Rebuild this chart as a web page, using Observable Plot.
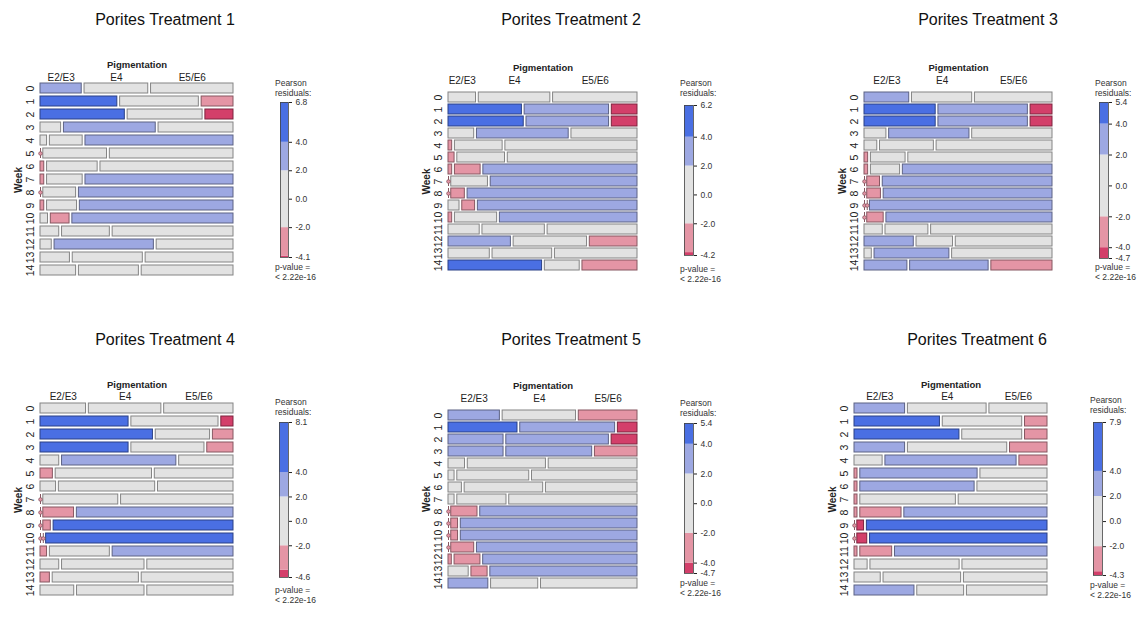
<!DOCTYPE html>
<html><head><meta charset="utf-8">
<script src="https://cdn.jsdelivr.net/npm/d3@7"></script>
<script src="https://cdn.jsdelivr.net/npm/@observablehq/plot@0.6"></script>
<style>
body{margin:0;background:#fff;font-family:"Liberation Sans",Arial,sans-serif;}
#root{position:relative;width:1142px;height:619px;overflow:hidden;background:#fff;}
.abs{position:absolute;}
.title{font-size:16px;color:#111;transform:translate(-50%,-50%);white-space:nowrap;}
.lg{font-size:8.5px;color:#333;line-height:10px;white-space:nowrap;}
</style></head><body><div id="root"></div>
<script>
// ---------- data ----------
const weeks = [0,1,2,3,4,5,6,7,8,9,10,11,12,13,14];
const pigmentLevels = ["E2/E3","E4","E5/E6"];
const titles = ["Porites Treatment 1","Porites Treatment 2","Porites Treatment 3","Porites Treatment 4","Porites Treatment 5","Porites Treatment 6"];

// row proportions (%) per week: [E2/E3, E4, E5/E6]; residual class: 2 (>4), 1 (2..4), 0, -1 (-4..-2), -2 (<-4)
const t1Props = [[22,34,44],[41,42,17],[45,40,15],[11,49,40],[3.5,17.5,79],[0,34,66],[2,27,71],[2,19,79],[0,17.5,82.5],[2,16,82],[4,10,86],[10,25.5,64.5],[6,53,41],[15.7,37.4,46.9],[19,32,49]];
const t1Levels = [[1,0,0],[2,0,-1],[2,0,-2],[0,1,0],[0,0,1],[-1,0,0],[-1,0,0],[-1,0,1],[-1,0,1],[-1,0,1],[0,-1,1],[0,0,0],[0,1,0],[0,0,0],[0,0,0]];

const t2Props = [[15,39,46],[40,46,14],[41,45,14],[14,50,36],[2,26,72],[3.3,26,70.7],[2,14,84],[0,20,80],[0,7.4,92.6],[6,7,87],[2,23,75],[17,34,49],[34,40,26],[22.5,32.5,45],[51,19,30]];
const t2Levels = [[0,0,0],[2,1,-2],[2,1,-2],[0,1,0],[-1,0,0],[-1,0,0],[-1,-1,1],[-1,0,1],[-1,-1,1],[0,-1,1],[-1,0,1],[0,0,0],[1,0,-1],[0,0,0],[2,0,-1]];

const t3Props = [[24.5,33,42.5],[39,49,12],[39,49,12],[12,44,44],[7,29.5,63.5],[2,19,79],[2,16,82],[0,7,93],[0,7.5,92.5],[0,0,100],[0,9,91],[10,23.5,66.5],[27,20,53],[4,41,55],[23.5,43,33.5]];
const t3Levels = [[1,0,0],[2,1,-2],[2,1,-2],[0,1,0],[0,0,0],[-1,0,0],[-1,0,1],[-1,-1,1],[-1,-1,1],[-1,-1,1],[-1,-1,1],[0,0,0],[1,0,0],[0,1,0],[1,1,-1]];

const t4Props = [[24.3,38.7,37],[47,46.5,6.5],[60,29,11],[47,39,14],[10,61,29],[6.6,51.4,42],[8.3,51.4,40.3],[0,40,60],[0,16.4,83.6],[0,4,96],[0,0,100],[3.5,32,64.5],[10,44,46],[5,46,49],[18,36,46]];
const t4Levels = [[0,0,0],[2,0,-2],[2,0,-1],[2,0,-1],[0,1,0],[-1,0,0],[0,0,0],[-1,0,0],[-1,-1,1],[-1,-1,2],[-1,-1,2],[-1,0,1],[0,0,0],[-1,0,0],[0,0,0]];

const t5Props = [[28,40,32],[37.6,51.7,10.7],[30,55.9,14.1],[30,46.8,23.2],[9,42.6,48.4],[3.3,39.2,57.5],[7.3,42.8,49.9],[3.3,26.8,69.9],[0,14.3,85.7],[0,3.7,96.3],[0,3.7,96.3],[0,12.5,87.5],[1.8,14.1,84.1],[11,8.8,80.2],[21.7,25.7,52.6]];
const t5Levels = [[1,0,-1],[2,1,-2],[1,1,-2],[1,1,-1],[0,0,0],[0,0,0],[0,0,0],[0,0,0],[-1,-1,1],[-1,-1,1],[-1,-1,1],[-1,-1,1],[-1,-1,1],[0,-1,1],[1,0,0]];

const t6Props = [[27,42,31],[45.6,42.4,12],[56,32,12],[27,53,20],[15,70,15],[1.6,62.6,35.8],[1.6,61,37.4],[1.6,51,47.4],[1.6,22,76.4],[0,3.6,96.4],[0,5.3,94.7],[1.6,17,81.4],[7,47.6,45.4],[14,41.4,44.6],[32,25,43]];
const t6Levels = [[1,0,0],[2,0,-1],[2,0,-1],[1,0,-1],[0,1,-1],[-1,1,0],[-1,1,0],[-1,0,0],[-1,-1,1],[-1,-2,2],[-1,-2,2],[-1,-1,1],[0,0,0],[0,0,0],[1,0,0]];

const residualMax = [6.8,6.2,5.4,8.1,5.4,7.9];
const residualMin = [-4.1,-4.2,-4.7,-4.6,-4.7,-4.3];
const legendTicks = [[6.8,4,2,0,-2,-4.1],[6.2,4,2,0,-2,-4.2],[5.4,4,2,0,-2,-4,-4.7],[8.1,4,2,0,-2,-4.6],[5.4,4,2,0,-2,-4,-4.7],[7.9,4,2,0,-2,-4.3]];
const pValueText = "< 2.22e-16";

const allProps = [t1Props,t2Props,t3Props,t4Props,t5Props,t6Props];
const allLevels = [t1Levels,t2Levels,t3Levels,t4Levels,t5Levels,t6Levels];

// shading scheme (residual cut points and colours)
const cutPoints = [-Infinity,-4,-2,2,4,Infinity];
const shadeLevels = [-2,-1,0,1,2];
const shade = {"2":"#4A6FE3","1":"#9DA8E2","0":"#E2E2E2","-1":"#E495A5","-2":"#D33F6A"};
const border = l => d3.color(shade[l]).darker(1.5).formatHex();

// ---------- layout (page pixels) ----------
const layout = [
 {title:[165,20],  span:[40,233],  rows:[82,277],  pig:61,  col:73,  bar:[280,288,102,257],  lgX:275,  pear:83,  pv:267},
 {title:[571,20],  span:[448,637], rows:[87,275],  pig:64,  col:76,  bar:[684,693,105,255],  lgX:680,  pear:83,  pv:269},
 {title:[988,20],  span:[864,1052],rows:[87,274],  pig:64,  col:76,  bar:[1099,1108,102,258],lgX:1095, pear:83,  pv:267},
 {title:[165,340], span:[40,233],  rows:[402,597], pig:381, col:392, bar:[279,288,422,577],  lgX:275,  pear:402, pv:590},
 {title:[571,340], span:[448,637], rows:[404,593], pig:382, col:394, bar:[684,693,423,573],  lgX:680,  pear:403, pv:583},
 {title:[977,340], span:[854,1047],rows:[402,596], pig:381, col:392, bar:[1093,1102,422,575],lgX:1090, pear:400, pv:585},
];

const gap = 0.015;
const font = "'Liberation Sans', Arial, sans-serif";
const root = document.getElementById("root");

function place(el, left, top){ el.style.position="absolute"; el.style.left=left+"px"; el.style.top=top+"px"; root.appendChild(el); }

function cellsFor(props, levels){
  const out=[];
  weeks.forEach((w,i)=>{
    const p = props[i]; const s = d3.sum(p); let cum = 0;
    p.forEach((v,k)=>{
      const f = v/s;
      out.push({week:w, k, pig:pigmentLevels[k], x1:cum+k*gap, x2:cum+f+k*gap, zero:v===0, level:levels[i][k]});
      cum += f;
    });
  });
  return out;
}

layout.forEach((L,i)=>{
  // title
  const t = document.createElement("div"); t.className="title"; t.textContent = titles[i];
  place(t, L.title[0], L.title[1]);

  // mosaic
  const cells = cellsFor(allProps[i], allLevels[i]);
  const zeros = cells.filter(d=>d.zero);
  const colLabels = cells.filter(d=>d.week===weeks[0]).map(d=>({label:d.pig, xc:(d.x1+d.x2)/2}));
  const [sL,sR] = L.span, [rT,rB] = L.rows;
  const mL=48, mR=5, mT=30, mB=5;
  const mosaic = Plot.plot({
    width:(sR-sL)+mL+mR, height:(rB-rT)+mT+mB,
    marginLeft:mL, marginRight:mR, marginTop:mT, marginBottom:mB,
    style:{fontFamily:font, fontSize:"10px", color:"#222", background:"transparent", overflow:"visible"},
    x:{domain:[0,1+2*gap], axis:null},
    y:{type:"band", domain:weeks, paddingInner:0.2, paddingOuter:0, axis:null},
    color:{type:"identity"},
    marks:[
      Plot.barX(cells.filter(d=>!d.zero), {x1:"x1", x2:"x2", y:"week", fill:d=>shade[d.level], stroke:d=>border(d.level), strokeWidth:1}),
      Plot.tickX(zeros, {x:"x1", y:"week", stroke:d=>border(d.level), strokeWidth:1}),
      Plot.dot(zeros, {x:"x1", y:"week", r:1.8, fill:d=>shade[d.level], stroke:d=>border(d.level), strokeWidth:0.8}),
      Plot.text(weeks, {y:d=>d, text:d=>String(d), frameAnchor:"left", dx:-10, rotate:-90, fontSize:10.5, textAnchor:"middle", lineAnchor:"middle"}),
      Plot.text(["Week"], {text:d=>d, frameAnchor:"left", dx:-22, rotate:-90, fontWeight:"bold", fontSize:10, textAnchor:"middle", lineAnchor:"middle"}),
      Plot.text(["Pigmentation"], {text:d=>d, frameAnchor:"top", dy:L.pig-rT, fontWeight:"bold", fontSize:9.5}),
      Plot.text(colLabels, {x:"xc", text:"label", frameAnchor:"top", dy:L.col-rT, fontSize:10})
    ]
  });
  place(mosaic, sL-mL, rT-mT);

  // legend bar
  const [bL,bR,bT,bB] = L.bar;
  const mn = residualMin[i], mx = residualMax[i];
  const segs = shadeLevels.map((lv,j)=>({lo:Math.max(cutPoints[j],mn), hi:Math.min(cutPoints[j+1],mx), fill:shade[lv]})).filter(d=>d.lo<d.hi);
  const lgMR = 35;
  const legend = Plot.plot({
    width:(bR-bL)+5+lgMR, height:(bB-bT)+10,
    marginLeft:5, marginRight:lgMR, marginTop:5, marginBottom:5,
    style:{fontFamily:font, fontSize:"8.5px", color:"#333", background:"transparent", overflow:"visible"},
    y:{domain:[mn,mx], axis:null},
    color:{type:"identity"},
    marks:[
      Plot.rect(segs, {y1:"lo", y2:"hi", fill:"fill"}),
      Plot.frame({stroke:"#444", strokeWidth:0.8}),
      Plot.axisY({anchor:"right", ticks:legendTicks[i], tickFormat:d=>d.toFixed(1), tickSize:3, tickPadding:4, fontSize:8.5, label:null, stroke:"#222"})
    ]
  });
  place(legend, bL-5, bT-5);

  const pr = document.createElement("div"); pr.className="lg"; pr.innerHTML="Pearson<br>residuals:";
  place(pr, L.lgX, L.pear-5);
  const pv = document.createElement("div"); pv.className="lg"; pv.innerHTML="p-value =<br>"+pValueText.replace("<","&lt;");
  place(pv, L.lgX, L.pv-5);
});
</script>
</body></html>
